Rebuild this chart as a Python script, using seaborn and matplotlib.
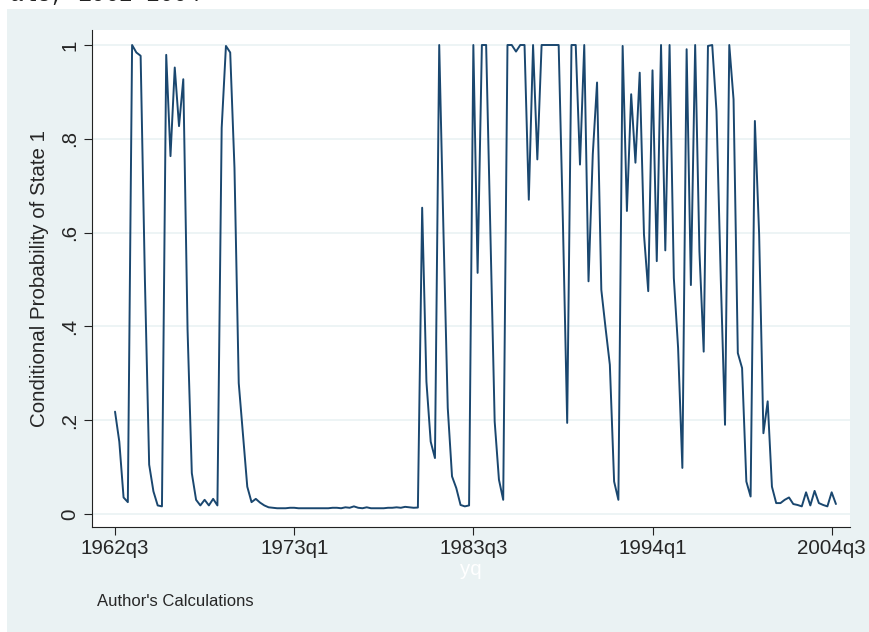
import matplotlib
matplotlib.use("Agg")
import matplotlib.pyplot as plt
import seaborn as sns
import pandas as pd

# conditional probability of state 1, quarterly 1962q3 - 2004q4
start_quarter = 10   # Stata %tq: 1962q3 = 10 quarters after 1960q1
prob_state1 = [
    0.218, 0.154, 0.035, 0.025, 1.000, 0.984, 0.977, 0.500, 0.105, 0.048,
    0.018, 0.016, 0.979, 0.763, 0.952, 0.827, 0.927, 0.393, 0.087, 0.030,
    0.018, 0.030, 0.018, 0.032, 0.018, 0.823, 0.998, 0.984, 0.738, 0.279,
    0.169, 0.058, 0.025, 0.032, 0.024, 0.018, 0.014, 0.013, 0.012, 0.012,
    0.012, 0.013, 0.013, 0.012, 0.012, 0.012, 0.012, 0.012, 0.012, 0.012,
    0.012, 0.013, 0.013, 0.012, 0.014, 0.013, 0.016, 0.013, 0.012, 0.014,
    0.012, 0.012, 0.012, 0.012, 0.013, 0.013, 0.014, 0.013, 0.015, 0.014,
    0.013, 0.0135, 0.653, 0.282, 0.154, 0.119, 1.000, 0.600, 0.226, 0.080,
    0.055, 0.019, 0.016, 0.018, 1.000, 0.514, 1.000, 1.000, 0.600, 0.197,
    0.073, 0.030, 1.000, 1.000, 0.986, 1.000, 1.000, 0.670, 1.000, 0.756,
    1.000, 1.000, 1.000, 1.000, 1.000, 0.620, 0.194, 1.000, 1.000, 0.745,
    1.000, 0.496, 0.767, 0.920, 0.478, 0.396, 0.318, 0.069, 0.030, 0.998,
    0.646, 0.895, 0.749, 0.941, 0.596, 0.475, 0.946, 0.539, 1.000, 0.562,
    1.000, 0.503, 0.354, 0.098, 0.991, 0.488, 1.000, 0.560, 0.346, 0.998,
    1.000, 0.859, 0.503, 0.190, 1.000, 0.884, 0.343, 0.311, 0.069, 0.037,
    0.838, 0.596, 0.172, 0.240, 0.058, 0.023, 0.023, 0.030, 0.035, 0.021,
    0.019, 0.016, 0.046, 0.018, 0.049, 0.023, 0.019, 0.016, 0.046, 0.021,
]
tick_quarters = [10, 52, 94, 136, 178]
tick_labels = ["1962q3", "1973q1", "1983q3", "1994q1", "2004q3"]
y_ticks = [0, 0.2, 0.4, 0.6, 0.8, 1.0]
y_tick_labels = ["0", ".2", ".4", ".6", ".8", "1"]

df = pd.DataFrame({
    "yq": list(range(start_quarter, start_quarter + len(prob_state1))),
    "prob": prob_state1,
})

sns.set_theme(style="white")
plt.rcParams["font.family"] = ["Liberation Sans", "DejaVu Sans"]

bg = "#eaf2f3"
navy = "#1a476f"

fig = plt.figure(figsize=(8.69, 6.32), dpi=100, facecolor="white")
# graph region background (Stata s2color)
fig.add_artist(plt.Rectangle((7 / 869, 0), 1, 1 - 9 / 632, transform=fig.transFigure,
                             facecolor=bg, edgecolor="none", zorder=-5))
# cut-off page text above the graph
fig.text(10 / 869, 1 - 1 / 632, "als, 1962-2004", family="Liberation Mono", fontsize=16.3,
         va="baseline", ha="left", color="#222222")

ax = fig.add_axes([92 / 869, 1 - 527 / 632, 758 / 869, 497 / 632])
ax.set_zorder(2)
ax.set_facecolor("white")

sns.lineplot(data=df, x="yq", y="prob", ax=ax, color=navy, linewidth=1.4)

ax.set_xlim(4.6, 182.3)
ax.set_ylim(-0.028, 1.032)
ax.set_xticks(tick_quarters)
ax.set_xticklabels(tick_labels, fontsize=14.8)
ax.set_yticks(y_ticks)
ax.set_yticklabels(y_tick_labels, fontsize=14.8, rotation=90, va="center")
ax.tick_params(axis="both", direction="out", length=6, width=0.8, color="#222222",
               bottom=True, left=True, pad=3)
ax.grid(axis="y", color=bg, linewidth=1.2)
ax.set_axisbelow(True)

for side in ["top", "right"]:
    ax.spines[side].set_visible(False)
for side in ["left", "bottom"]:
    ax.spines[side].set_color("#222222")
    ax.spines[side].set_linewidth(0.8)

ax.set_ylabel("Conditional Probability of State 1", fontsize=14.8, labelpad=8)
ax.set_xlabel("yq", fontsize=14.8, color="white", labelpad=1)

fig.text(97 / 869, 1 - 601 / 632, "Author's Calculations", fontsize=12, va="center", ha="left")

fig.savefig("out.png", dpi=100, facecolor=fig.get_facecolor())
